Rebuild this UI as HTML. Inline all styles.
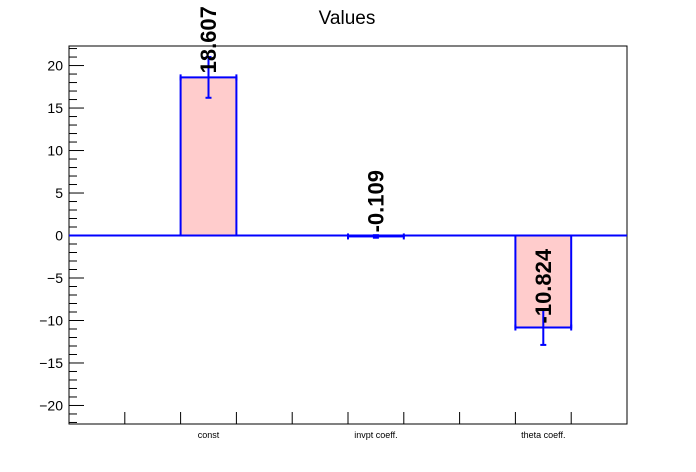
<!DOCTYPE html>
<html><head><meta charset="utf-8"><style>body{margin:0;background:#fff}svg{display:block;font-family:"Liberation Sans",sans-serif}</style></head>
<body>
<svg id="c" width="696" height="472">
<rect width="696" height="472" fill="#fff"/>
<text x="347" y="24" font-size="19" text-anchor="middle">Values</text>
<rect x="69" y="46" width="558" height="378" fill="none" stroke="#000" stroke-width="1"/>
<g id="g"></g>
</svg>
<script>
const categories = ["const", "invpt coeff.", "theta coeff."];
const values = [18.607, -0.109, -10.824];
const errors = [2.4, 0.15, 2.05];
const valueLabels = ["18.607", "-0.109", "-10.824"];
const yTicks = [-20, -15, -10, -5, 0, 5, 10, 15, 20];

const X0 = 69, X1 = 627, Y0 = 424, Y1 = 46;
const yMin = -22.18, yMax = 22.3;
const xs = u => X0 + (u / 10) * (X1 - X0);
const ys = v => Y0 - (v - yMin) / (yMax - yMin) * (Y0 - Y1);
const NS = "http://www.w3.org/2000/svg";
const g = document.getElementById("g");
function mk(tag, attrs, parent) {
  const e = document.createElementNS(NS, tag);
  for (const k in attrs) e.setAttribute(k, attrs[k]);
  (parent || g).appendChild(e);
  return e;
}
// y minor ticks
for (let v = -22; v <= 22; v++) {
  const t = mk("line", {x1: X0, x2: X0 + (v % 5 === 0 ? 15 : 8), y1: ys(v), y2: ys(v), stroke: "#000"});
  
  
}
yTicks.forEach(v => {
  const t = mk("text", {x: X0 - 6, y: ys(v) + 5, "font-size": "14", "text-anchor": "end"});
  t.textContent = (v < 0 ? "\u2212" + (-v) : v);
  
  
});
// x ticks
for (let u = 1; u < 10; u++) {
  const t = mk("line", {x1: xs(u), x2: xs(u), y1: Y0, y2: Y0 - 12, stroke: "#000"});
  
  
}
// zero line
const zl = mk("line", {x1: X0, x2: X1, y1: ys(0), y2: ys(0), stroke: "#00f", "stroke-width": 2});


categories.forEach((c, i) => {
  const cu = 2.5 + 3 * i;
  const cx = xs(cu), xl = xs(cu - 0.5), xr = xs(cu + 0.5);
  const yv = ys(values[i]), y0 = ys(0);
  const bar = mk("rect", {x: xl, y: Math.min(yv, y0), width: xr - xl, height: Math.max(Math.abs(yv - y0), 0.5), fill: "#ffcccc", stroke: "#00f", "stroke-width": 2});
  
  
  const eb = mk("line", {x1: cx, x2: cx, y1: ys(values[i] + errors[i]), y2: ys(values[i] - errors[i]), stroke: "#00f", "stroke-width": 2});
  
  
  [values[i] + errors[i], values[i] - errors[i]].forEach(v => {
    const cap = mk("line", {x1: cx - 3, x2: cx + 3, y1: ys(v), y2: ys(v), stroke: "#00f", "stroke-width": 2});
    
    
  });
  [xl, xr].forEach(x => {
    const s = mk("line", {x1: x, x2: x, y1: yv - 3, y2: yv + 3, stroke: "#00f", "stroke-width": 2});
    
    
  });
  const lab = mk("text", {x: 0, y: 0, "font-size": "22", "font-weight": "bold", "dominant-baseline": "central", transform: "translate(" + cx + "," + (yv - 4) + ") rotate(-90)"});
  lab.textContent = valueLabels[i];
  
  
  const xlab = mk("text", {x: cx, y: 438, "font-size": "9", "text-anchor": "middle"});
  xlab.textContent = c;
  
  
});
</script>
</body></html>
